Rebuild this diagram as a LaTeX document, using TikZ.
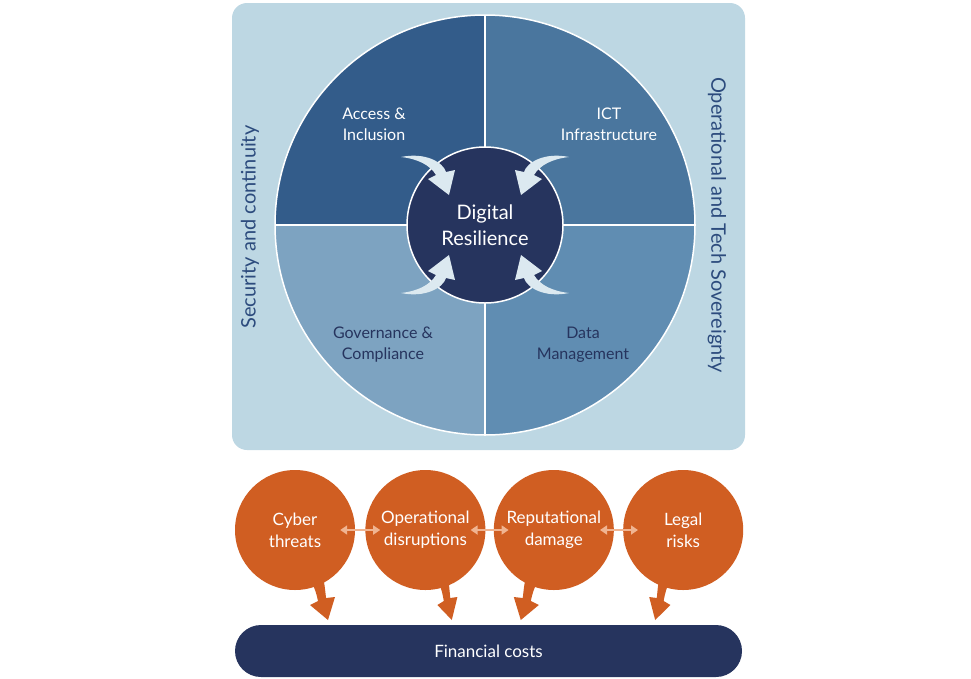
\documentclass[tikz,border=0pt]{standalone}
\usepackage{fontspec}
\setmainfont{Lato}
\usetikzlibrary{arrows.meta,positioning}
\definecolor{panelblue}{HTML}{BDD7E3}
\definecolor{quadA}{HTML}{335C8A}
\definecolor{quadB}{HTML}{4A769E}
\definecolor{quadC}{HTML}{7DA3C1}
\definecolor{quadD}{HTML}{608DB2}
\definecolor{corenavy}{HTML}{26345E}
\definecolor{palearrow}{HTML}{DCE9F0}
\definecolor{sidetext}{HTML}{2C4B7D}
\definecolor{riskorange}{HTML}{D05E22}
\definecolor{peach}{HTML}{F0B491}

\begin{document}
\begin{tikzpicture}[x=1pt,y=-1pt,
  quadlabel/.style={align=center, font=\fontsize{16}{21}\selectfont},
  sidelabel/.style={text=sidetext, font=\fontsize{20}{24}\selectfont},
  risk/.style={circle, fill=riskorange, text=white, minimum size=120pt, inner sep=0pt,
    align=center, font=\fontsize{17}{22}\selectfont},
  link/.style={{Triangle[length=7pt,width=9pt]}-{Triangle[length=7pt,width=9pt]}, line width=1.8pt, peach},
  inarrow/.pic={\fill[palearrow] (-84,-68) .. controls (-60,-73) and (-42,-63) .. (-39,-53)
      -- (-30,-55) -- (-36,-30) -- (-57,-46) -- (-49,-50) .. controls (-55,-60) and (-67,-66) .. cycle;},
  outarrow/.pic={\fill[riskorange] (15,48) -- (28,46) .. controls (30,58) .. (31,68)
      -- (40,67) -- (33,90) -- (15,75) -- (23,71) .. controls (21,62) .. cycle;}]
\useasboundingbox (0,0) rectangle (971,678);

% upper panel with the four quadrants
\fill[panelblue, rounded corners=15pt] (232,3) rectangle (745,450);
\begin{scope}
  \clip (485,225) circle[radius=210];
  \fill[quadA] (270,10) rectangle (485,225);
  \fill[quadB] (485,10) rectangle (700,225);
  \fill[quadC] (270,225) rectangle (485,440);
  \fill[quadD] (485,225) rectangle (700,440);
\end{scope}
\draw[white, line width=1.5pt] (485,225) circle[radius=210];
\draw[white, line width=1.5pt] (275,225) -- (695,225) (485,15) -- (485,435);

\node[quadlabel, text=white] (access) at (374,124) {Access \&\\Inclusion};
\node[quadlabel, text=white] (ict) at (609,124) {ICT\\Infrastructure};
\node[quadlabel, text=corenavy] (gov) at (383,345) {Governance \&\\Compliance};
\node[quadlabel, text=corenavy] (data) at (583,345) {Data\\Management};

\node[sidelabel, rotate=90] (security) at (250,227) {Security and continuity};
\node[sidelabel, rotate=-90] (sovereignty) at (717,225) {Operational and Tech Sovereignty};

% centre circle and the arrows pointing into it
\node[circle, fill=corenavy, draw=white, line width=1.5pt, minimum size=156pt, inner sep=0pt,
  text=white, align=center, font=\fontsize{20}{26}\selectfont] (core) at (485,225) {Digital\\Resilience};
\pic at (core.center) {inarrow};
\pic[xscale=-1] at (core.center) {inarrow};
\pic[yscale=-1] at (core.center) {inarrow};
\pic[xscale=-1,yscale=-1] at (core.center) {inarrow};

% risks
\node[risk] (cyber) at (295,530) {Cyber\\threats};
\node[risk, right=10pt of cyber] (ops) {Operational\\disruptions};
\node[risk, right=8pt of ops] (reput) {Reputational\\damage};
\node[risk, right=9pt of reput] (legal) {Legal\\risks};
\pic at (cyber.center) {outarrow};
\pic[xscale=0.8] at (ops.center) {outarrow};
\pic[xscale=-1] at (reput.center) {outarrow};
\pic[xscale=-0.85] at (legal.center) {outarrow};

\draw[link] ([xshift=-15pt]cyber.east) -- ([xshift=15pt]ops.west);
\draw[link] ([xshift=-15pt]ops.east) -- ([xshift=15pt]reput.west);
\draw[link] ([xshift=-14pt]reput.east) -- ([xshift=15pt]legal.west);

\node[fill=corenavy, rounded corners=26pt, minimum width=507pt, minimum height=52pt,
  text=white, font=\fontsize{17}{20}\selectfont] (costs) at (488.5,651) {Financial costs};
\end{tikzpicture}
\end{document}
